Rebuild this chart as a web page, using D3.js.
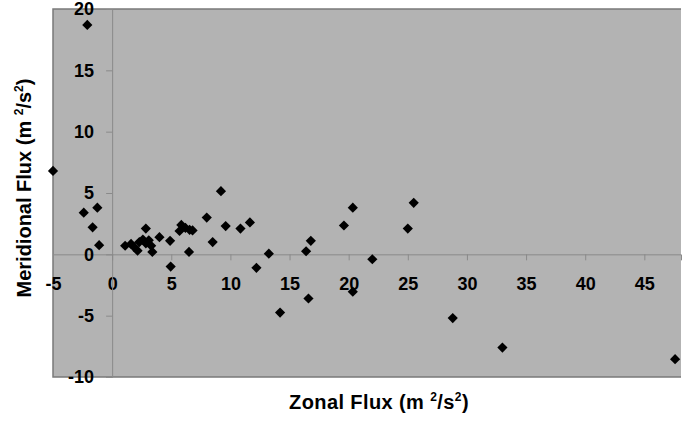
<!DOCTYPE html>
<html>
<head>
<meta charset="utf-8">
<script src="https://cdn.jsdelivr.net/npm/d3@7/dist/d3.min.js"></script>
<style>
body { margin: 0; background: #fff; }
svg text { font-family: "Liberation Sans", Arial, sans-serif; font-weight: bold; fill: #000; }
</style>
</head>
<body>
<svg id="chart" width="700" height="421"></svg>
<script>

/// zonal flux (x) and meridional flux (y)
var zonal = [-5.0, -2.1, -2.4, -1.25, -1.65, -1.1,
             1.1, 1.6, 1.85, 2.15, 2.3, 2.6, 2.85, 3.1, 3.3, 3.4, 4.0, 2.85,
             4.9, 4.95, 5.7, 5.85, 6.2, 6.55, 6.8, 6.5, 8.0, 8.5, 9.2, 9.6,
             10.85, 11.65, 12.2, 13.25, 14.2, 16.4, 16.8, 16.6, 19.6, 20.35,
             20.35, 22.0, 25.0, 25.5, 28.8, 33.0, 47.6];
var meridional = [6.8, 18.7, 3.4, 3.8, 2.2, 0.75,
                  0.7, 0.85, 0.6, 0.3, 1.0, 1.2, 0.9, 1.15, 0.7, 0.2, 1.4, 2.1,
                  1.1, -1.0, 1.9, 2.4, 2.15, 2.0, 1.95, 0.2, 3.0, 1.0, 5.15, 2.3,
                  2.1, 2.6, -1.1, 0.05, -4.75, 0.25, 1.1, -3.6, 2.35, 3.8,
                  -3.05, -0.4, 2.1, 4.2, -5.2, -7.6, -8.55];

var xTicks = [-5, 0, 5, 10, 15, 20, 25, 30, 35, 40, 45];
var yTicks = [-10, -5, 0, 5, 10, 15, 20];

var points = zonal.map(function(v, i){ return {x: v, y: meridional[i]}; });

var svg = d3.select("#chart");

var margin = {left: 53, right: 681, top: 9, bottom: 377};

var x = d3.scaleLinear().domain([-5, 48.1]).range([margin.left, margin.right]);
var y = d3.scaleLinear().domain([-10, 20]).range([margin.bottom, margin.top]);

/// plot area
svg.append("rect")
    .attr("x", margin.left).attr("y", margin.top)
    .attr("width", margin.right - margin.left)
    .attr("height", margin.bottom - margin.top)
    .attr("fill", "#b3b3b3");

/// frame (left, top, bottom)
svg.append("path")
    .attr("d", "M" + margin.right + "," + margin.top + "H" + margin.left +
               "V" + margin.bottom + "H" + margin.right)
    .attr("fill", "none")
    .attr("stroke", "#7a7a7a")
    .attr("stroke-width", 1.5);

/// axes through the origin
var xAxis = d3.axisBottom(x).tickValues(xTicks).tickSize(6).tickPadding(17)
    .tickFormat(function(d){ return String(d); });
var yAxis = d3.axisLeft(y).tickValues(yTicks).tickSize(6).tickPadding(12)
    .tickFormat(function(d){ return String(d); });

var gx = svg.append("g")
    .attr("transform", "translate(0," + y(0) + ")")
    .call(xAxis);
var gy = svg.append("g")
    .attr("transform", "translate(" + x(0) + ",0)")
    .call(yAxis);

[gx, gy].forEach(function(g){
    g.select(".domain").attr("stroke", "#8a8a8a");
    g.selectAll(".tick line").attr("stroke", "#8a8a8a");
    g.selectAll(".tick text")
        .style("font-size", "18px")
        .style("font-family", "'Liberation Sans', Arial, sans-serif")
        .style("font-weight", "bold")
        .attr("fill", "#000");
});

/// markers
var diamond = d3.symbol().type(d3.symbolSquare).size(52);
svg.append("g").selectAll("path")
    .data(points)
  .enter().append("path")
    .attr("d", diamond)
    .attr("transform", function(d){
        return "translate(" + x(d.x) + "," + y(d.y) + ") rotate(45)";
    })
    .attr("fill", "#000");

/// axis titles
function title(t, label){
    t.style("font-size", "20px");
    t.append("tspan").text(label + " (m ");
    t.append("tspan").attr("dy", -8).style("font-size", "12px").text("2");
    t.append("tspan").attr("dy", 8).text("/s");
    t.append("tspan").attr("dy", -8).style("font-size", "12px").text("2");
    t.append("tspan").attr("dy", 8).text(")");
}

svg.append("text")
    .attr("x", 379).attr("y", 409)
    .attr("text-anchor", "middle")
    .style("letter-spacing", "0.4px")
    .call(title, "Zonal Flux");

svg.append("text")
    .attr("transform", "translate(31,188) rotate(-90)")
    .attr("text-anchor", "middle")
    .call(title, "Meridional Flux");

</script>
</body>
</html>
